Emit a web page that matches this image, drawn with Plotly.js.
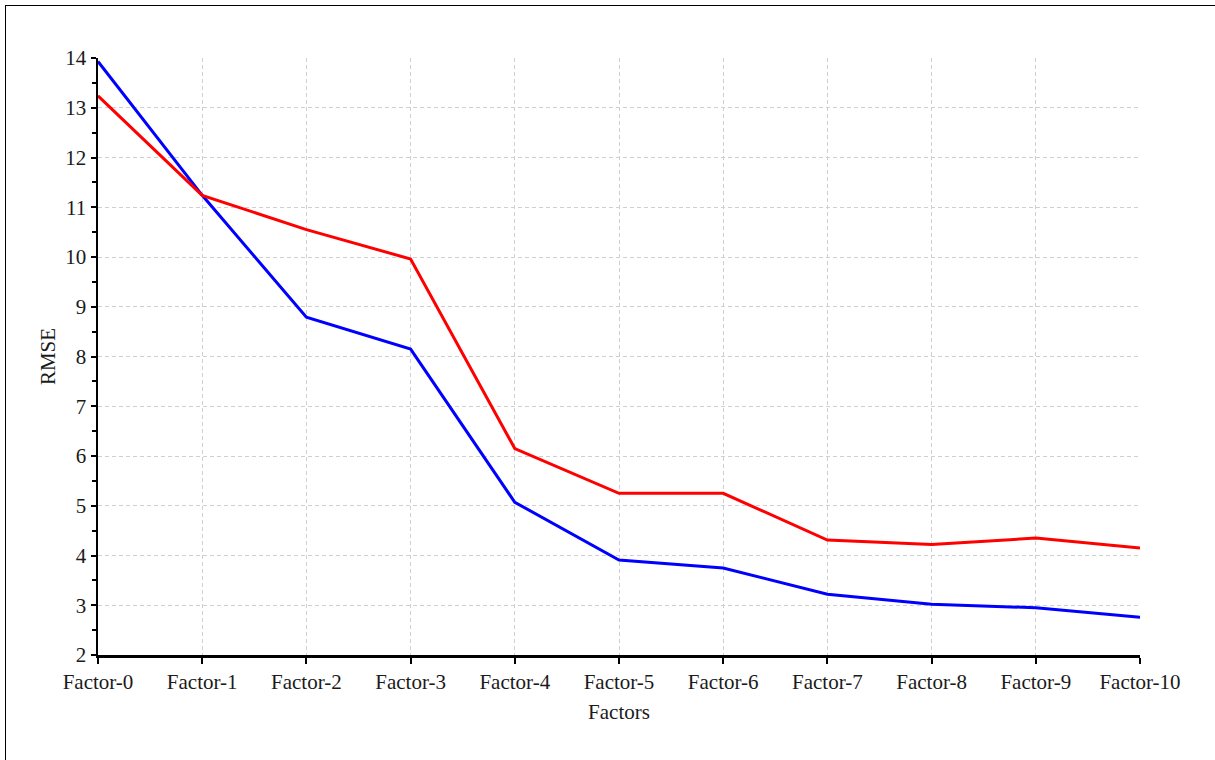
<!DOCTYPE html>
<html>
<head>
<meta charset="utf-8">
<script src="https://cdn.plot.ly/plotly-3.0.1.min.js"></script>
<style>
html,body{margin:0;padding:0;background:#fff;overflow:hidden;}
#chart{position:absolute;left:0;top:0;width:1215px;height:760px;}
#frame{position:absolute;left:5px;top:5px;width:1300px;height:900px;border-top:1px solid #000;border-left:1px solid #000;pointer-events:none;}
</style>
</head>
<body>
<div id="chart"></div>
<div id="frame"></div>
<script>
const factors = ["Factor-0","Factor-1","Factor-2","Factor-3","Factor-4","Factor-5","Factor-6","Factor-7","Factor-8","Factor-9","Factor-10"];
const blueSeries = [13.93, 11.24, 8.79, 8.15, 5.07, 3.91, 3.75, 3.22, 3.02, 2.95, 2.76];
const redSeries  = [13.24, 11.24, 10.55, 9.96, 6.15, 5.25, 5.25, 4.31, 4.22, 4.35, 4.15];
const yTicks = [2,3,4,5,6,7,8,9,10,11,12,13,14];

const font = {family: '"Liberation Serif", "Times New Roman", serif', size: 21, color: '#1a1a1a'};

const traces = [
  {x: factors, y: blueSeries, type: 'scatter', mode: 'lines', name: 'Blue', line: {color: '#0000ff', width: 3}},
  {x: factors, y: redSeries, type: 'scatter', mode: 'lines', name: 'Red', line: {color: '#ff0000', width: 3}}
];

const layout = {
  width: 1215, height: 760,
  margin: {l: 98, r: 75, t: 58, b: 105},
  paper_bgcolor: '#fff', plot_bgcolor: '#fff',
  showlegend: false,
  font: font,
  xaxis: {
    type: 'category',
    range: [0, 10],
    showline: true, linecolor: '#000', linewidth: 2.5,
    ticks: 'outside', ticklen: 6, tickwidth: 2, tickcolor: '#000',
    showgrid: true, gridcolor: '#d0d0d0', griddash: '4px,3px', gridwidth: 1,
    zeroline: false,
    tickfont: font,
    title: {text: 'Factors', font: font, standoff: 12},
    automargin: false
  },
  yaxis: {
    range: [2, 14],
    tickvals: yTicks,
    showline: true, linecolor: '#000', linewidth: 2.5,
    ticks: 'outside', ticklen: 5, tickwidth: 2, tickcolor: '#000',
    minor: {dtick: 0.5, ticks: 'outside', ticklen: 4, tickwidth: 2, tickcolor: '#000', showgrid: false},
    showgrid: true, gridcolor: '#d0d0d0', griddash: '4px,3px', gridwidth: 1,
    zeroline: false,
    tickfont: font,
    title: {text: 'RMSE', font: font, standoff: 4},
    automargin: false
  }
};

Plotly.newPlot('chart', traces, layout, {displayModeBar: false, staticPlot: true});
</script>
</body>
</html>
